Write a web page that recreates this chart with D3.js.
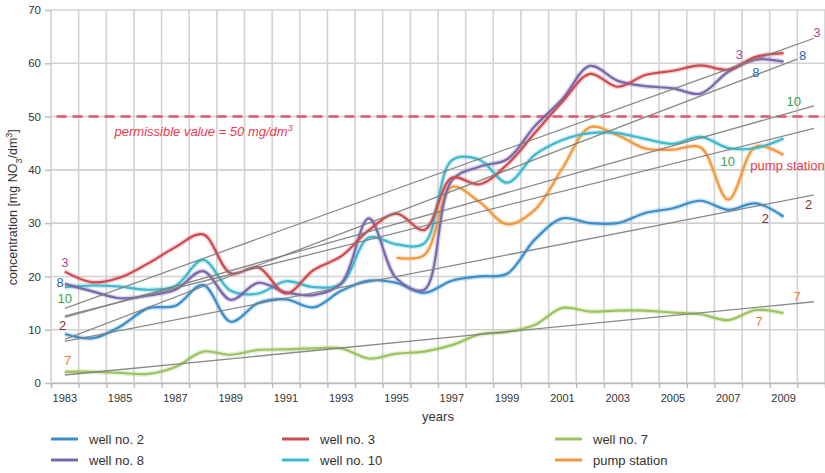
<!DOCTYPE html>
<html>
<head>
<meta charset="utf-8">
<script src="https://cdn.jsdelivr.net/npm/d3@7"></script>
<style>
body { margin: 0; background: #fff; }
text { font-family: "Liberation Sans", Arial, sans-serif; }
</style>
</head>
<body>
<svg id="chart" width="825" height="473"></svg>
<script>
// annual values, plotted at mid-year
var years = d3.range(1983, 2010);
var well2 = [9.2, 8.4, 10.6, 14.0, 14.5, 18.4, 11.5, 15.0, 15.7, 14.2, 17.3, 19.2, 18.8, 16.9,
             19.2, 20.0, 20.5, 26.9, 30.9, 30.0, 30.0, 31.9, 32.8, 34.2, 32.5, 33.7, 31.2];
var well3 = [20.9, 18.9, 19.8, 22.4, 25.5, 27.9, 20.6, 21.7, 16.8, 21.2, 23.8, 28.7, 31.8, 28.7,
             38.5, 37.3, 41.0, 46.9, 52.8, 58.0, 55.6, 57.8, 58.6, 59.6, 58.8, 61.2, 61.9];
var well7 = [2.1, 2.1, 1.9, 1.7, 3.0, 5.9, 5.3, 6.2, 6.3, 6.5, 6.5, 4.6, 5.5, 5.9,
             7.1, 9.1, 9.6, 10.9, 14.1, 13.4, 13.6, 13.6, 13.2, 12.9, 11.8, 13.7, 13.1];
var well8 = [18.6, 17.2, 15.9, 16.4, 17.5, 21.0, 15.6, 18.8, 17.0, 16.5, 18.7, 30.9, 19.6, 17.5,
             38.0, 40.6, 42.0, 48.2, 53.3, 59.5, 56.7, 55.7, 55.3, 54.3, 58.4, 60.7, 60.3];
var well10 = [18.0, 18.3, 18.1, 17.5, 18.2, 23.1, 17.3, 16.8, 19.1, 18.0, 18.6, 27.3, 26.0, 26.2,
              41.8, 41.9, 37.6, 42.8, 45.6, 46.9, 46.9, 45.8, 44.9, 46.2, 44.1, 44.1, 45.9];
var pumpYears = d3.range(1995, 2010);
var pump = [23.5, 24.0, 36.8, 34.0, 29.8, 32.5, 40.3, 48.0, 46.5, 44.0, 43.8, 44.2, 34.4, 44.4, 42.8];

// linear trends (start, end)
var trendYears = [1983, 2010.1];
var trend8Years = [1983, 2009.5];
var trend2 = [7.8, 35.3];
var trend3 = [14.0, 64.7];
var trend7 = [1.5, 15.25];
var trend8 = [8.2, 60.8];
var trend10 = [12.3, 52.0];
var trendPump = [12.6, 47.8];

var limitValue = 50;
var yTicks = [0, 10, 20, 30, 40, 50, 60, 70];
var xTickYears = [1983, 1985, 1987, 1989, 1991, 1993, 1995, 1997, 1999, 2001, 2003, 2005, 2007, 2009];

var seriesNames = ["well no. 2", "well no. 3", "well no. 7", "well no. 8", "well no. 10", "pump station"];
var seriesColors = ["#3a8fcb", "#cf4a50", "#9cc35d", "#7a68ad", "#3cb9cc", "#f2983f"];

// well number labels: [text, year, value]
var labelColors = { "3": "#a54aa0", "8": "#2f62b6", "10": "#2ba352", "2": "#7b3428", "7": "#f27f3c" };
var startLabels = [["3", 1983.5, 22.7], ["8", 1983.33, 18.8], ["10", 1983.5, 15.9], ["2", 1983.42, 10.7], ["7", 1983.6, 4.3]];
var endLabels = [["3", 2007.9, 61.7], ["8", 2008.5, 58.3], ["10", 2007.48, 41.65], ["2", 2008.84, 30.8], ["7", 2008.62, 11.5]];
var trendLabels = [["3", 2010.71, 65.8], ["8", 2010.19, 61.4], ["10", 2009.87, 52.8], ["2", 2010.41, 33.5], ["7", 2009.99, 16.2]];

var svg = d3.select("#chart"),
    margin = { top: 10, right: 0, bottom: 90, left: 51 },
    width = +svg.attr("width") - margin.left - margin.right,
    height = +svg.attr("height") - margin.top - margin.bottom;

var x = d3.scaleLinear().domain([1983, 2011]).range([0, width]),
    y = d3.scaleLinear().domain([0, 70]).range([height, 0]);

function mid(yr) { return x(yr + 0.5); }

var g = svg.append("g")
    .attr("transform", "translate(" + margin.left + "," + margin.top + ")");

// grid
g.append("g")
    .selectAll("line")
    .data(d3.range(1983, 2012))
    .enter().append("line")
    .attr("x1", function (d) { return x(d); })
    .attr("x2", function (d) { return x(d); })
    .attr("y1", 0)
    .attr("y2", height)
    .attr("stroke", "#d2d2d2")
    .attr("stroke-width", 1.6);

g.append("g")
    .selectAll("line")
    .data(yTicks)
    .enter().append("line")
    .attr("x1", 0)
    .attr("x2", width)
    .attr("y1", function (d) { return y(d); })
    .attr("y2", function (d) { return y(d); })
    .attr("stroke", "#d2d2d2")
    .attr("stroke-width", 1.6);

// axes
var yAxis = g.append("g")
    .call(d3.axisLeft(y).tickValues(yTicks).tickSize(6).tickPadding(4));
yAxis.select(".domain").remove();
yAxis.selectAll(".tick line").attr("stroke", "#bbb").attr("stroke-width", 1.4);
yAxis.selectAll(".tick text").attr("fill", "#333").style("font-size", "11.5px")
    .style("font-family", "Liberation Sans, Arial, sans-serif");

var xAxis = g.append("g")
    .attr("transform", "translate(0," + height + ")")
    .call(d3.axisBottom(x).tickValues(d3.range(1983, 2011)).tickSize(5).tickFormat(""));
xAxis.select(".domain").attr("stroke", "#bbb").attr("stroke-width", 1.6);
xAxis.selectAll(".tick line").attr("stroke", "#bbb").attr("stroke-width", 1.4);

g.append("g")
    .selectAll("text")
    .data(xTickYears)
    .enter().append("text")
    .attr("x", function (d) { return mid(d); })
    .attr("y", height + 19)
    .attr("text-anchor", "middle")
    .attr("fill", "#333")
    .style("font-size", "11px")
    .text(function (d) { return d; });

// axis titles
var yTitle = svg.append("text")
    .attr("transform", "translate(17," + (margin.top + y(33)) + ") rotate(-90)")
    .attr("text-anchor", "middle")
    .attr("fill", "#333")
    .style("font-size", "12.5px");
yTitle.append("tspan").text("concentration [mg NO");
yTitle.append("tspan").attr("baseline-shift", "sub").style("font-size", "9px").text("3");
yTitle.append("tspan").text("/dm");
yTitle.append("tspan").attr("baseline-shift", "super").style("font-size", "9px").text("3");
yTitle.append("tspan").text("]");

svg.append("text")
    .attr("x", 438)
    .attr("y", 421)
    .attr("text-anchor", "middle")
    .attr("fill", "#333")
    .style("font-size", "13px")
    .text("years");

// permissible limit
g.append("line")
    .attr("x1", x(1983.2))
    .attr("x2", width)
    .attr("y1", y(limitValue))
    .attr("y2", y(limitValue))
    .attr("stroke", "#e0566b")
    .attr("stroke-width", 2.6)
    .attr("stroke-dasharray", "10,6");

var limitText = g.append("text")
    .attr("x", x(1985.3))
    .attr("y", y(limitValue) + 19)
    .attr("fill", "#ec3a4c")
    .style("font-size", "13px")
    .style("font-style", "italic");
limitText.append("tspan").text("permissible value = 50 mg/dm");
limitText.append("tspan").attr("baseline-shift", "super").style("font-size", "9px").text("3");

// series
var line = d3.line()
    .x(function (d) { return mid(d[0]); })
    .y(function (d) { return y(d[1]); })
    .curve(d3.curveCatmullRom.alpha(0.5));

var series = [
    d3.zip(years, well2),
    d3.zip(years, well3),
    d3.zip(years, well7),
    d3.zip(years, well8),
    d3.zip(years, well10),
    d3.zip(pumpYears, pump)
];
var drawOrder = [2, 0, 5, 4, 3, 1];

g.append("g")
    .selectAll("path")
    .data(drawOrder)
    .enter().append("path")
    .attr("d", function (i) { return line(series[i]); })
    .attr("fill", "none")
    .attr("stroke", function (i) { return seriesColors[i]; })
    .attr("stroke-opacity", 0.25)
    .attr("stroke-width", 5);

g.append("g")
    .selectAll("path")
    .data(drawOrder)
    .enter().append("path")
    .attr("d", function (i) { return line(series[i]); })
    .attr("fill", "none")
    .attr("stroke", function (i) { return seriesColors[i]; })
    .attr("stroke-width", 2.2);

// trend lines
var trends = [
    d3.zip(trendYears, trend2),
    d3.zip(trendYears, trend3),
    d3.zip(trendYears, trend7),
    d3.zip(trend8Years, trend8),
    d3.zip(trendYears, trend10),
    d3.zip(trendYears, trendPump)
];

g.append("g")
    .selectAll("path")
    .data(trends)
    .enter().append("path")
    .attr("d", d3.line()
        .x(function (d) { return mid(d[0]); })
        .y(function (d) { return y(d[1]); }))
    .attr("fill", "none")
    .attr("stroke", "#7d7d7d")
    .attr("stroke-opacity", 0.9)
    .attr("stroke-width", 1.3);

// number labels
g.append("g")
    .selectAll("text")
    .data(startLabels.concat(endLabels, trendLabels))
    .enter().append("text")
    .attr("x", function (d) { return x(d[1]); })
    .attr("y", function (d) { return y(d[2]); })
    .attr("text-anchor", "middle")
    .attr("dominant-baseline", "central")
    .attr("fill", function (d) { return labelColors[d[0]]; })
    .style("font-size", "13px")
    .text(function (d) { return d[0]; });

g.append("text")
    .attr("x", x(2008.3))
    .attr("y", y(40.8))
    .attr("dominant-baseline", "central")
    .attr("fill", "#ec3a4c")
    .style("font-size", "13px")
    .text("pump station");

// legend
var legendOrder = [0, 3, 1, 4, 2, 5];
var legendCols = [51, 282, 555];
var legend = svg.append("g")
    .selectAll("g")
    .data(legendOrder)
    .enter().append("g")
    .attr("transform", function (d, k) {
        return "translate(" + legendCols[Math.floor(k / 2)] + "," + (439 + (k % 2) * 21) + ")";
    });

legend.append("line")
    .attr("x1", 0)
    .attr("x2", 27)
    .attr("stroke", function (i) { return seriesColors[i]; })
    .attr("stroke-width", 3);

legend.append("text")
    .attr("x", 38)
    .attr("dominant-baseline", "central")
    .attr("fill", "#333")
    .style("font-size", "13px")
    .text(function (i) { return seriesNames[i]; });
</script>
</body>
</html>
